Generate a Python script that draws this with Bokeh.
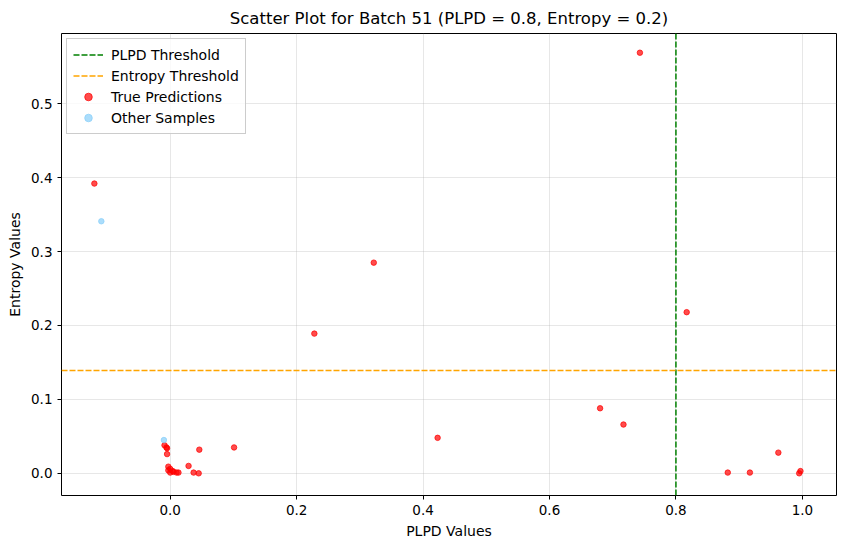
from bokeh.plotting import figure
from bokeh.models import Span, FixedTicker, PrintfTickFormatter, Range1d, Legend, LegendItem
from bokeh.embed import file_html
from bokeh.resources import INLINE

# Data
true_plpd = [-0.120, 0.743, 0.322, 0.228, 0.817, 0.680, 0.717, 0.423, 0.101, 0.046,
             0.029, 0.037, 0.045, 0.962, 0.882, 0.917, 0.997, 0.995,
             -0.009, -0.005, -0.006, -0.005, -0.003, -0.003, 0.000, 0.005, 0.010, 0.013, 0.000, 0.004]
true_entropy = [0.392, 0.569, 0.285, 0.189, 0.218, 0.088, 0.066, 0.048, 0.035, 0.032,
                0.010, 0.001, 0.000, 0.028, 0.001, 0.001, 0.003, 0.000,
                0.038, 0.034, 0.035, 0.026, 0.009, 0.004, 0.001, 0.002, 0.001, 0.001, 0.006, 0.003]
other_plpd = [-0.109, -0.010]
other_entropy = [0.341, 0.045]
plpd_threshold = 0.8
entropy_threshold = 0.139
x_ticks = [0.0, 0.2, 0.4, 0.6, 0.8, 1.0]
y_ticks = [0.0, 0.1, 0.2, 0.3, 0.4, 0.5]

FONT = "DejaVu Sans"
DASH = "6 2"
nan = float("nan")

p = figure(frame_width=775, frame_height=462, output_backend="svg", toolbar_location=None,
           x_range=Range1d(-0.172, 1.054), y_range=Range1d(-0.030, 0.595),
           min_border_left=61, min_border_right=2, min_border_top=29, min_border_bottom=42,
           title="Scatter Plot for Batch 51 (PLPD = 0.8, Entropy = 0.2)")
p.title.align = "center"
p.title.text_font = FONT
p.title.text_font_size = "16.5px"
p.title.text_font_style = "normal"
p.title.text_color = "black"
p.title.standoff = 12

p.outline_line_color = "black"
p.outline_line_width = 1
p.background_fill_color = "white"

for ax in (p.xaxis, p.yaxis):
    ax.axis_line_color = None
    ax.minor_tick_line_color = None
    ax.major_tick_out = 4
    ax.major_tick_in = 0
    ax.major_tick_line_color = "black"
    ax.major_label_text_font = FONT
    ax.major_label_text_font_size = "13.5px"
    ax.major_label_text_color = "black"
    ax.axis_label_text_font = FONT
    ax.axis_label_text_font_size = "14px"
    ax.axis_label_text_font_style = "normal"
    ax.axis_label_text_color = "black"
    ax.formatter = PrintfTickFormatter(format="%.1f")

p.xaxis.ticker = FixedTicker(ticks=x_ticks)
p.yaxis.ticker = FixedTicker(ticks=y_ticks)
p.xaxis.axis_label = "PLPD Values"
p.yaxis.axis_label = "Entropy Values"

p.xgrid.ticker = FixedTicker(ticks=x_ticks)
p.ygrid.ticker = FixedTicker(ticks=y_ticks)
p.grid.grid_line_color = "#b0b0b0"
p.grid.grid_line_alpha = 0.3

vline = Span(location=plpd_threshold, dimension="height", line_color="green",
             line_dash=DASH, line_width=1.5)
hline = Span(location=entropy_threshold, dimension="width", line_color="orange",
             line_dash=DASH, line_width=1.5)
p.add_layout(vline)
p.add_layout(hline)

# dummy renderers for legend line entries (not visible in plot area)
lg1 = p.line(x=[nan, nan], y=[nan, nan], line_color="green", line_dash=DASH, line_width=1.5)
lg2 = p.line(x=[nan, nan], y=[nan, nan], line_color="orange", line_dash=DASH, line_width=1.5)

r_true = p.scatter(true_plpd, true_entropy, size=5.5, fill_color="red", line_color="red",
                   fill_alpha=0.7, line_alpha=0.7)
r_other = p.scatter(other_plpd, other_entropy, size=5.5, fill_color="lightskyblue",
                    line_color="lightskyblue", fill_alpha=0.7, line_alpha=0.7)

legend = Legend(items=[
    LegendItem(label="PLPD Threshold", renderers=[lg1]),
    LegendItem(label="Entropy Threshold", renderers=[lg2]),
    LegendItem(label="True Predictions", renderers=[r_true]),
    LegendItem(label="Other Samples", renderers=[r_other]),
], location="top_left")
legend.label_text_font = FONT
legend.label_text_font_size = "14px"
legend.label_text_color = "black"
legend.label_standoff = 8
legend.border_line_color = "#cccccc"
legend.border_line_alpha = 1
legend.background_fill_alpha = 0.8
legend.margin = 5
legend.padding = 6
legend.spacing = 2
legend.label_height = 19
legend.glyph_height = 19
legend.glyph_width = 30
p.add_layout(legend)

open("out.html", "w").write(file_html(p, INLINE))
